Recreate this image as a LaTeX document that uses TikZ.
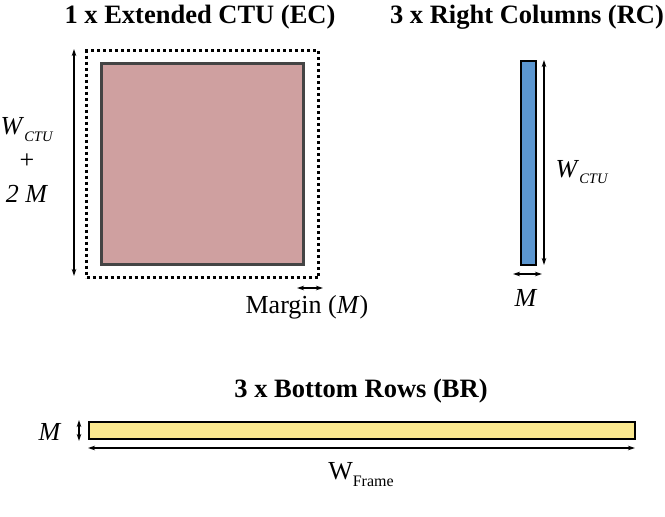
\documentclass[tikz,border=0pt]{standalone}
\usepackage{fontspec}
\setmainfont{Liberation Serif}
\usetikzlibrary{arrows.meta}
\definecolor{ecfill}{HTML}{CFA0A0}
\definecolor{ecborder}{HTML}{444444}
\definecolor{rcfill}{HTML}{5B96D0}
\definecolor{brfill}{HTML}{FAE88F}
\tikzset{
  title/.style={font=\bfseries\fontsize{26.5}{30}\selectfont, inner sep=0pt},
  lbl/.style={font=\fontsize{26}{34}\selectfont, inner sep=0pt},
  dim/.style={line width=1.2pt, {Stealth[length=7pt,width=4.5pt]}-{Stealth[length=7pt,width=4.5pt]}},
  boxnode/.style={inner sep=0pt, anchor=north west}
}
\newcommand{\Wctu}{\textit{W}\raisebox{-0.55ex}{\fontsize{14.5}{16}\selectfont\textit{CTU}}}
\begin{document}
\begin{tikzpicture}[x=1pt,y=-1pt]
\useasboundingbox (0,0) rectangle (665,517);
% EC
\node[title] (ectitle) at (200,17) {1 x Extended CTU (EC)};
\node[boxnode, draw=black, line width=3pt, dash pattern=on 3pt off 3pt, minimum width=232, minimum height=227] (ecouter) at (85,49) {};
\node[boxnode, fill=ecfill, draw=ecborder, line width=3pt, minimum width=202, minimum height=201] (ec) at (100,62) {};
\coordinate (ecvt) at (74,49);
\coordinate (ecvb) at (74,276);
\draw[dim] (ecvt) -- (ecvb);
\node[lbl, align=center] (eclabel) at (27,160) {\Wctu\\+\\\textit{2 M}};
\coordinate (mgl) at (297,288);
\coordinate (mgr) at (323,288);
\draw[dim] (mgl) -- (mgr);
\node[lbl] (mglabel) at (307,307) {Margin (\textit{M})};
% RC
\node[title] (rctitle) at (527,17) {3 x Right Columns (RC)};
\node[boxnode, fill=rcfill, draw=black, line width=2pt, minimum width=15, minimum height=204] (rc) at (520,60) {};
\coordinate (rcvt) at (544,60);
\coordinate (rcvb) at (544,265);
\draw[dim] (rcvt) -- (rcvb);
\node[lbl] (rclabel) at (582,172) {\Wctu};
\coordinate (rchl) at (513,274);
\coordinate (rchr) at (542,274);
\draw[dim] (rchl) -- (rchr);
\node[lbl] (rcm) at (526,298) {\textit{M}};
% BR
\node[title] (brtitle) at (361,391) {3 x Bottom Rows (BR)};
\node[boxnode, fill=brfill, draw=black, line width=2pt, minimum width=546, minimum height=17] (br) at (88,421) {};
\coordinate (brvt) at (79,420);
\coordinate (brvb) at (79,441);
\draw[dim] (brvt) -- (brvb);
\node[lbl] (brm) at (50,432) {\textit{M}};
\coordinate (brhl) at (88,448);
\coordinate (brhr) at (635,448);
\draw[dim] (brhl) -- (brhr);
\node[lbl, anchor=base] (brw) at (361,479) {W\raisebox{-0.6ex}{\fontsize{16}{18}\selectfont Frame}};
\end{tikzpicture}
\end{document}
